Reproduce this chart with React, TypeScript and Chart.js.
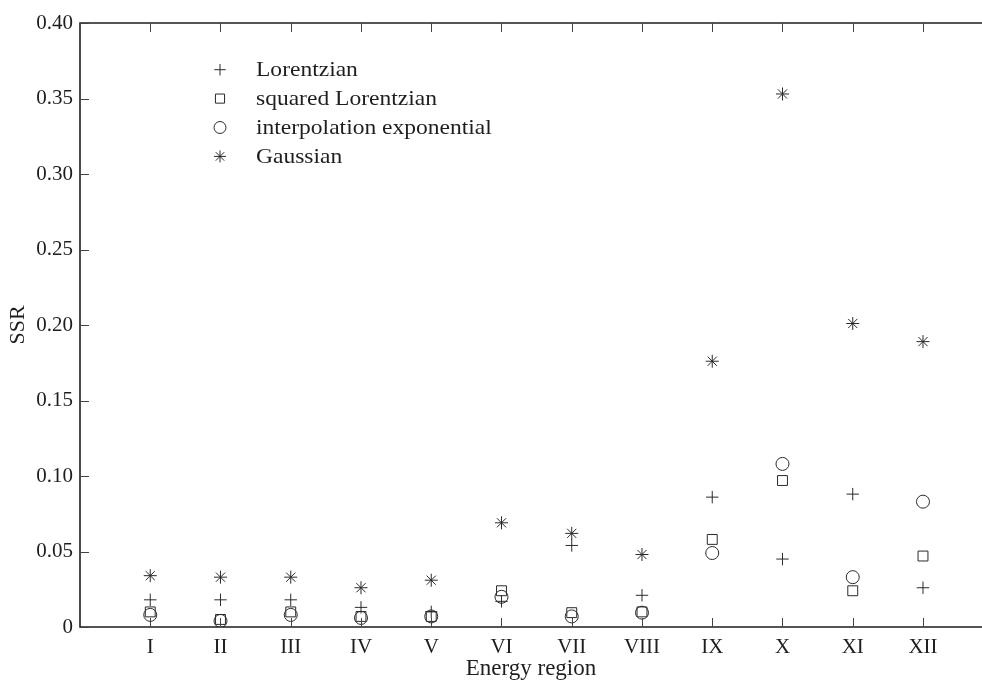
import { useEffect, useRef } from 'react';
import { Chart, registerables } from 'chart.js';
import { drawPoint } from 'chart.js/helpers';

Chart.register(...registerables);

// Energy regions on the x axis
const regions = ['I', 'II', 'III', 'IV', 'V', 'VI', 'VII', 'VIII', 'IX', 'X', 'XI', 'XII'];

// Sum of squared residuals per fitted line shape
const lorentzian = [0.018, 0.018, 0.018, 0.013, 0.010, 0.017, 0.054, 0.021, 0.086, 0.045, 0.088, 0.026];
const squaredLorentzian = [0.010, 0.005, 0.010, 0.007, 0.007, 0.024, 0.0095, 0.010, 0.058, 0.097, 0.024, 0.047];
const interpolationExponential = [0.008, 0.004, 0.008, 0.006, 0.007, 0.020, 0.007, 0.0095, 0.049, 0.108, 0.033, 0.083];
const gaussian = [0.034, 0.033, 0.033, 0.026, 0.031, 0.069, 0.062, 0.048, 0.176, 0.353, 0.201, 0.189];

const yTicks = [0, 0.05, 0.1, 0.15, 0.2, 0.25, 0.3, 0.35, 0.4];

const INK = '#1e1e1e';
const MARK = '#2a2a2a';
const SERIF = '"Liberation Serif", "Times New Roman", serif';

const series = [
  { label: 'Lorentzian', values: lorentzian, pointStyle: 'cross', radius: 6.2 },
  { label: 'squared Lorentzian', values: squaredLorentzian, pointStyle: 'rect', radius: 7 },
  { label: 'interpolation exponential', values: interpolationExponential, pointStyle: 'circle', radius: 6.5 },
  { label: 'Gaussian', values: gaussian, pointStyle: 'star', radius: 6.5 },
];

// Box frame with inward-pointing ticks (left, bottom and top edges)
const framePlugin = {
  id: 'frame',
  afterDatasetsDraw(chart: any) {
    const { ctx, chartArea } = chart;
    const { left, right, top, bottom } = chartArea;
    const xs = chart.scales.x;
    const ys = chart.scales.y;
    ctx.save();
    ctx.strokeStyle = INK;
    ctx.lineWidth = 1.6;
    ctx.beginPath();
    ctx.moveTo(right, top);
    ctx.lineTo(left, top);
    ctx.lineTo(left, bottom);
    ctx.lineTo(right, bottom);
    ctx.stroke();

    ctx.lineWidth = 1;
    ctx.strokeStyle = '#444444';
    ctx.beginPath();
    yTicks.forEach((v) => {
      const py = Math.round(ys.getPixelForValue(v)) + 0.5;
      ctx.moveTo(left, py);
      ctx.lineTo(left + 9, py);
    });
    regions.forEach((_, i) => {
      const px = Math.round(xs.getPixelForValue(i + 1)) + 0.5;
      ctx.moveTo(px, bottom);
      ctx.lineTo(px, bottom - 9);
      ctx.moveTo(px, top);
      ctx.lineTo(px, top + 9);
    });
    ctx.stroke();
    ctx.restore();
  },
};

// Legend drawn inside the plot, top-left
const legendPlugin = {
  id: 'insetLegend',
  afterDraw(chart: any) {
    const { ctx } = chart;
    ctx.save();
    series.forEach((s, i) => {
      const yy = 69.7 + i * 28.9;
      ctx.strokeStyle = MARK;
      ctx.fillStyle = 'rgba(0,0,0,0)';
      ctx.lineWidth = 1;
      drawPoint(ctx, { pointStyle: s.pointStyle, radius: s.radius * 0.92, rotation: 0, borderWidth: 1 } as any, 220, yy);
      ctx.save();
      ctx.translate(256, yy + 1);
      ctx.scale(1.12, 1);
      ctx.font = `21px ${SERIF}`;
      ctx.textBaseline = 'middle';
      ctx.textAlign = 'left';
      ctx.fillStyle = INK;
      ctx.fillText(s.label, 0, 0);
      ctx.restore();
    });
    ctx.restore();
  },
};

export default function App() {
  const canvasRef = useRef<HTMLCanvasElement | null>(null);

  useEffect(() => {
    const canvas = canvasRef.current;
    if (!canvas) return;
    const chart = new Chart(canvas, {
      type: 'scatter',
      data: {
        datasets: series.map((s) => ({
          label: s.label,
          data: s.values.map((v, i) => ({ x: i + 1, y: v })),
          pointStyle: s.pointStyle as any,
          pointRadius: s.radius,
          pointHoverRadius: s.radius,
          borderColor: MARK,
          backgroundColor: 'rgba(0,0,0,0)',
          borderWidth: 1,
          pointBorderWidth: 1,
        })),
      },
      options: {
        animation: false,
        responsive: false,
        devicePixelRatio: 1,
        events: [],
        layout: { autoPadding: false, padding: { top: 23, right: 0, bottom: 0, left: 0 } },
        plugins: {
          legend: { display: false },
          tooltip: { enabled: false },
        },
        scales: {
          x: {
            type: 'linear',
            min: 0,
            max: 12.84,
            grid: { display: false, drawTicks: false },
            border: { display: false },
            afterBuildTicks: (scale: any) => {
              scale.ticks = regions.map((_, i) => ({ value: i + 1 }));
            },
            afterFit: (scale: any) => {
              scale.height = 54;
              scale.paddingLeft = 0;
              scale.paddingRight = 0;
            },
            ticks: {
              autoSkip: false,
              maxRotation: 0,
              padding: 8,
              color: INK,
              font: { family: SERIF, size: 21 },
              callback: (v: any) => regions[Number(v) - 1] ?? '',
            },
            title: {
              display: true,
              text: 'Energy region',
              color: INK,
              font: { family: SERIF, size: 23 },
              padding: { top: 0, bottom: -2 },
            },
          },
          y: {
            type: 'linear',
            min: 0,
            max: 0.4,
            grid: { display: false, drawTicks: false },
            border: { display: false },
            afterBuildTicks: (scale: any) => {
              scale.ticks = yTicks.map((v) => ({ value: v }));
            },
            afterFit: (scale: any) => {
              scale.width = 80;
            },
            ticks: {
              padding: 7,
              color: INK,
              font: { family: SERIF, size: 21 },
              callback: (v: any) => (Number(v) === 0 ? '0' : Number(v).toFixed(2)),
            },
            title: {
              display: true,
              text: 'SSR',
              color: INK,
              font: { family: SERIF, size: 22 },
              padding: { top: 5, bottom: 0 },
            },
          },
        },
      },
      plugins: [framePlugin, legendPlugin],
    });
    return () => chart.destroy();
  }, []);

  return (
    <div style={{ position: 'fixed', left: 0, top: 0, width: 982, height: 681, background: '#ffffff' }}>
      <canvas ref={canvasRef} width={982} height={681} style={{ display: 'block' }} />
    </div>
  );
}
